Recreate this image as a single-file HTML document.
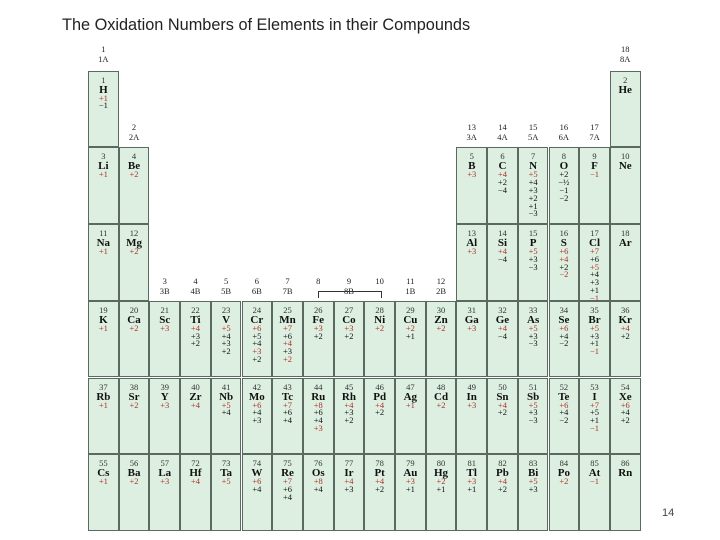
<!DOCTYPE html>
<html><head><meta charset="utf-8"><style>
body{margin:0;width:720px;height:540px;background:#fff;position:relative;overflow:hidden;font-family:"Liberation Serif",serif}
#title{position:absolute;left:62px;top:16px;font:16.3px "Liberation Sans",sans-serif;color:#222}
#pg{position:absolute;left:662px;top:507px;font:11px "Liberation Sans",sans-serif;color:#444}
.cell{position:absolute;width:30.7px;height:76.7px;background:#dcefe0;box-sizing:border-box;border:1px solid #5a6a60;text-align:center;color:#111}
.n{font-size:8.5px;margin-top:4px;line-height:9px;color:#333}
.s{font-size:11px;font-weight:bold;line-height:10px}
.o{font-size:8.5px;line-height:7.8px}
.r{color:#b0302a}
.g{position:absolute;width:30.7px;text-align:center;font-size:8.5px;line-height:10px;color:#222}
</style></head><body>
<div id="title">The Oxidation Numbers of Elements in their Compounds</div>
<div id="pg">14</div>
<div id="tbl"></div>
<script>
const x0=88,y0=70.7,cw=30.7,rh=76.7;
const elements=[
[1,1,1,"H",["*+1","−1"]],[18,1,2,"He",[]],
[1,2,3,"Li",["*+1"]],[2,2,4,"Be",["*+2"]],[13,2,5,"B",["*+3"]],[14,2,6,"C",["*+4","+2","−4"]],[15,2,7,"N",["*+5","+4","+3","+2","+1","−3"]],[16,2,8,"O",["+2","−½","−1","−2"]],[17,2,9,"F",["*−1"]],[18,2,10,"Ne",[]],
[1,3,11,"Na",["*+1"]],[2,3,12,"Mg",["*+2"]],[13,3,13,"Al",["*+3"]],[14,3,14,"Si",["*+4","−4"]],[15,3,15,"P",["*+5","+3","−3"]],[16,3,16,"S",["*+6","*+4","+2","*−2"]],[17,3,17,"Cl",["*+7","+6","*+5","+4","+3","+1","*−1"]],[18,3,18,"Ar",[]],
[1,4,19,"K",["*+1"]],[2,4,20,"Ca",["*+2"]],[3,4,21,"Sc",["*+3"]],[4,4,22,"Ti",["*+4","+3","+2"]],[5,4,23,"V",["*+5","+4","+3","+2"]],[6,4,24,"Cr",["*+6","+5","+4","*+3","+2"]],[7,4,25,"Mn",["*+7","+6","*+4","+3","*+2"]],[8,4,26,"Fe",["*+3","+2"]],[9,4,27,"Co",["*+3","+2"]],[10,4,28,"Ni",["*+2"]],[11,4,29,"Cu",["*+2","+1"]],[12,4,30,"Zn",["*+2"]],[13,4,31,"Ga",["*+3"]],[14,4,32,"Ge",["*+4","−4"]],[15,4,33,"As",["*+5","+3","−3"]],[16,4,34,"Se",["*+6","+4","−2"]],[17,4,35,"Br",["*+5","+3","+1","*−1"]],[18,4,36,"Kr",["*+4","+2"]],
[1,5,37,"Rb",["*+1"]],[2,5,38,"Sr",["*+2"]],[3,5,39,"Y",["*+3"]],[4,5,40,"Zr",["*+4"]],[5,5,41,"Nb",["*+5","+4"]],[6,5,42,"Mo",["*+6","+4","+3"]],[7,5,43,"Tc",["*+7","+6","+4"]],[8,5,44,"Ru",["*+8","+6","+4","*+3"]],[9,5,45,"Rh",["*+4","+3","+2"]],[10,5,46,"Pd",["*+4","+2"]],[11,5,47,"Ag",["*+1"]],[12,5,48,"Cd",["*+2"]],[13,5,49,"In",["*+3"]],[14,5,50,"Sn",["*+4","+2"]],[15,5,51,"Sb",["*+5","+3","−3"]],[16,5,52,"Te",["*+6","+4","−2"]],[17,5,53,"I",["*+7","+5","+1","*−1"]],[18,5,54,"Xe",["*+6","+4","+2"]],
[1,6,55,"Cs",["*+1"]],[2,6,56,"Ba",["*+2"]],[3,6,57,"La",["*+3"]],[4,6,72,"Hf",["*+4"]],[5,6,73,"Ta",["*+5"]],[6,6,74,"W",["*+6","+4"]],[7,6,75,"Re",["*+7","+6","+4"]],[8,6,76,"Os",["*+8","+4"]],[9,6,77,"Ir",["*+4","+3"]],[10,6,78,"Pt",["*+4","+2"]],[11,6,79,"Au",["*+3","+1"]],[12,6,80,"Hg",["*+2","+1"]],[13,6,81,"Tl",["*+3","+1"]],[14,6,82,"Pb",["*+4","+2"]],[15,6,83,"Bi",["*+5","+3"]],[16,6,84,"Po",["*+2"]],[17,6,85,"At",["*−1"]],[18,6,86,"Rn",[]]
];
const groupCols=[1,18,2,13,14,15,16,17,3,4,5,6,7,8,9,10,11,12];
const groupA=["1A","8A","2A","3A","4A","5A","6A","7A","3B","4B","5B","6B","7B","","8B","","1B","2B"];
const groupY=[44,44,122,122,122,122,122,122,276,276,276,276,276,276,276,276,276,276];
const t=document.getElementById('tbl');
elements.forEach(e=>{
 const d=document.createElement('div');
 
 
 d.className='cell';
 d.style.left=(x0+(e[0]-1)*cw)+'px';d.style.top=(y0+(e[1]-1)*rh)+'px';
 let h='<div class="n">'+e[2]+'</div><div class="s">'+e[3]+'</div>';
 e[4].forEach(o=>{const red=o[0]=='*';h+='<div class="o'+(red?' r':'')+'">'+(red?o.slice(1):o)+'</div>';});
 d.innerHTML=h;t.appendChild(d);
});
groupCols.forEach((c,i)=>{
 const g=document.createElement('div');
 
 
 g.className='g';
 g.style.left=(x0+(c-1)*cw)+'px';g.style.top=groupY[i]+'px';
 g.innerHTML=c+'<br>'+(groupA[i]||'&nbsp;');
 t.appendChild(g);
});
const b=document.createElement('div');


b.style.cssText='position:absolute;left:'+(x0+7.5*cw)+'px;top:291px;width:'+(2*cw)+'px;height:6px;border:1px solid #333;border-bottom:none';
t.appendChild(b);
</script>
</body></html>
